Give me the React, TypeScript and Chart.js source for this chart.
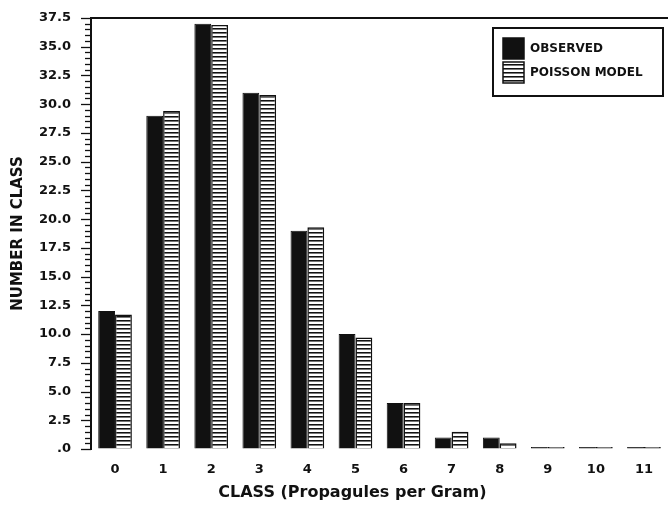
import React, { useEffect, useRef } from 'react';
import { Chart, registerables } from 'chart.js';

Chart.register(...registerables);

const classLabels = ['0', '1', '2', '3', '4', '5', '6', '7', '8', '9', '10', '11'];
const observed = [12, 29, 37, 31, 19, 10, 4, 1, 1, 0, 0, 0];
const poissonModel = [11.7, 29.4, 36.9, 30.8, 19.3, 9.7, 4.0, 1.5, 0.5, 0.1, 0.03, 0.01];
const seriesNames = ['OBSERVED', 'POISSON MODEL'];
const yMax = 37.5;
const yMajorStep = 2.5;
const yMinorStep = 0.5;
const yTitle = 'NUMBER IN CLASS';
const xTitle = 'CLASS (Propagules per Gram)';

const FONT = "'DejaVu Sans', sans-serif";
const INK = '#111111';

function isMajor(v: number) {
  const r = v / yMajorStep;
  return Math.abs(r - Math.round(r)) < 1e-6;
}

function makeHatch(): CanvasPattern | string {
  const c = document.createElement('canvas');
  c.width = 4;
  c.height = 4;
  const g = c.getContext('2d');
  if (!g) return '#ffffff';
  g.fillStyle = '#ffffff';
  g.fillRect(0, 0, 4, 4);
  g.fillStyle = INK;
  g.fillRect(0, 0, 4, 1);
  g.fillStyle = '#777777';
  g.fillRect(0, 1, 4, 1);
  return g.createPattern(c, 'repeat') || '#ffffff';
}

const decorPlugin = {
  id: 'decor',
  afterDraw(chart: any) {
    const { ctx, chartArea: ca, scales } = chart;
    const y = scales.y;
    ctx.save();
    ctx.strokeStyle = INK;
    // top frame line
    ctx.lineWidth = 2;
    ctx.beginPath();
    ctx.moveTo(ca.left - 1, ca.top);
    ctx.lineTo(chart.width, ca.top);
    ctx.stroke();
    // y ticks (major and minor)
    ctx.lineWidth = 1.3;
    y.ticks.forEach((t: any) => {
      const py = Math.round(y.getPixelForValue(t.value)) + 0.5;
      const len = isMajor(t.value) ? 10 : 6;
      ctx.beginPath();
      ctx.moveTo(ca.left - len, py);
      ctx.lineTo(ca.left, py);
      ctx.stroke();
    });
    // x title
    ctx.fillStyle = INK;
    ctx.font = `bold 16px ${FONT}`;
    ctx.textAlign = 'center';
    ctx.textBaseline = 'middle';
    ctx.fillText(xTitle, ca.left + (ca.right - ca.left) * 0.453, chart.height - 12);
    // legend box
    const bw = 170;
    const bh = 68;
    const bx = ca.right - bw - 5;
    const by = ca.top + 10;
    ctx.lineWidth = 2;
    ctx.strokeRect(bx, by, bw, bh);
    ctx.font = `bold 12px ${FONT}`;
    ctx.textAlign = 'left';
    chart.data.datasets.forEach((ds: any, i: number) => {
      const sx = bx + 10;
      const sy = by + 10 + i * 24;
      ctx.fillStyle = ds.backgroundColor;
      ctx.fillRect(sx, sy, 21, 21);
      ctx.lineWidth = 1.5;
      ctx.strokeRect(sx, sy, 21, 21);
      ctx.fillStyle = INK;
      ctx.fillText(ds.label, sx + 27, sy + 11);
    });
    ctx.restore();
  },
};

export default function App() {
  const ref = useRef<HTMLCanvasElement | null>(null);

  useEffect(() => {
    document.body.style.margin = '0';
    const canvas = ref.current;
    if (!canvas) return;
    const hatch = makeHatch();
    const chart = new Chart(canvas, {
      type: 'bar',
      data: {
        labels: classLabels,
        datasets: [
          {
            label: seriesNames[0],
            data: observed,
            backgroundColor: INK,
            borderColor: INK,
            borderWidth: 1,
            minBarLength: 2,
          },
          {
            label: seriesNames[1],
            data: poissonModel,
            backgroundColor: hatch as any,
            borderColor: INK,
            borderWidth: 1.5,
            minBarLength: 2,
          },
        ],
      },
      options: {
        responsive: false,
        animation: false,
        layout: { padding: { top: 18, right: 0, left: 0, bottom: 0 } },
        datasets: { bar: { categoryPercentage: 0.7, barPercentage: 1 } },
        plugins: {
          legend: { display: false },
          tooltip: { enabled: false },
        },
        scales: {
          x: {
            grid: { display: false },
            border: { display: false },
            ticks: {
              color: INK,
              font: { family: FONT, weight: 'bold', size: 13 },
              padding: 5,
              maxRotation: 0,
              autoSkip: false,
            },
            afterFit: (s: any) => {
              s.height = 56;
              s.paddingLeft = 0;
              s.paddingRight = 0;
            },
          },
          y: {
            min: 0,
            max: yMax,
            grid: { display: true, drawOnChartArea: false, drawTicks: false },
            border: { display: true, color: INK, width: 2 },
            ticks: {
              stepSize: yMinorStep,
              autoSkip: false,
              color: INK,
              padding: 20,
              font: { family: FONT, weight: 'bold', size: 13 },
              callback: (v: any) => {
                const n = Number(v);
                if (!isMajor(n)) return '';
                return n === 0 ? '.0' : n.toFixed(1);
              },
            },
            title: {
              display: true,
              text: yTitle,
              color: INK,
              font: { family: FONT, weight: 'bold', size: 15 },
              padding: { top: 9, bottom: 0 },
            },
            afterFit: (s: any) => {
              s.width = 91;
              s.paddingTop = 0;
              s.paddingBottom = 0;
            },
          },
        },
      },
      plugins: [decorPlugin],
    } as any);
    return () => chart.destroy();
  }, []);

  return (
    <div style={{ width: 668, height: 505, background: '#fff' }}>
      <canvas ref={ref} width={668} height={505} style={{ display: 'block' }} />
    </div>
  );
}
